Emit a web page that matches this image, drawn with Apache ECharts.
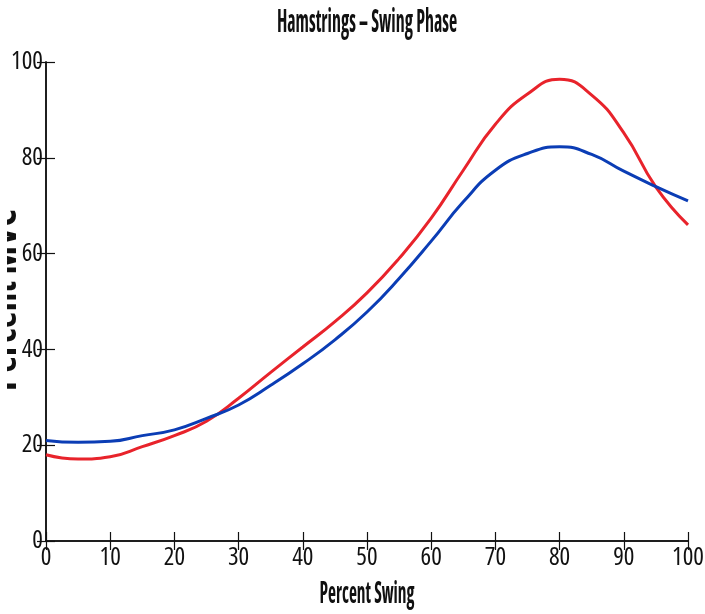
<!DOCTYPE html>
<html>
<head>
<meta charset="utf-8">
<script src="https://cdn.jsdelivr.net/npm/echarts@6/dist/echarts.min.js"></script>
<style>
html,body{margin:0;padding:0;background:#fff;}
#chart{width:705px;height:614px;}
</style>
</head>
<body>
<div id="chart"></div>
<script>
const titleText = 'Hamstrings – Swing Phase';
const xAxisName = 'Percent Swing';
const yAxisName = 'Percent MVC';
const xValues = [0, 5, 10, 15, 20, 25, 30, 35, 40, 45, 50, 55, 60, 65, 70, 75, 80, 85, 90, 95, 100];
const redValues = [18.0, 17.1, 17.6, 19.7, 22.0, 25.0, 29.8, 35.2, 40.5, 45.8, 51.8, 59.0, 67.4, 77.4, 87.0, 93.3, 96.4, 93.1, 85.2, 73.9, 66.0];
const blueValues = [21.0, 20.6, 20.8, 22.0, 23.2, 25.6, 28.4, 32.5, 37.0, 42.0, 47.8, 54.8, 62.6, 70.8, 77.4, 80.9, 82.3, 80.7, 77.2, 74.0, 71.0];
const xTicks = [0, 10, 20, 30, 40, 50, 60, 70, 80, 90, 100];
const yTicks = [0, 20, 40, 60, 80, 100];

const FONT = "'Open Sans', Roboto, sans-serif";
const STRETCH = 'extra-condensed';
const chart = echarts.init(document.getElementById('chart'));

function pairs(vals) { return xValues.map((x, i) => [x, vals[i]]); }

const tickStyle = { show: true, inside: true, length: 9, lineStyle: { color: '#111', width: 1.2 } };
const lineStyleAxis = { show: true, lineStyle: { color: '#111', width: 1.5 } };

chart.setOption({
  animation: false,
  backgroundColor: '#fff',
  grid: { left: 46, right: 17, top: 62, bottom: 73, containLabel: false, outerBoundsMode: 'none' },
  xAxis: [
    {
      type: 'value', min: 0, max: 100, interval: 10, position: 'bottom',
      axisLine: lineStyleAxis, axisTick: tickStyle, splitLine: { show: false },
      axisLabel: { fontFamily: FONT, fontStyle: STRETCH, fontSize: 25, color: '#111', margin: 4,
        formatter: v => (xTicks.indexOf(v) >= 0 ? String(v) : '') }
    },
    {
      type: 'value', min: 0, max: 100, interval: 10, position: 'top',
      axisLine: lineStyleAxis, axisTick: tickStyle, splitLine: { show: false },
      axisLabel: { show: false }
    }
  ],
  yAxis: [
    {
      type: 'value', min: 0, max: 100, interval: 20, position: 'left',
      axisLine: lineStyleAxis, axisTick: tickStyle, splitLine: { show: false },
      axisLabel: { fontFamily: FONT, fontStyle: STRETCH, fontSize: 25, color: '#111', margin: 3,
        formatter: v => (yTicks.indexOf(v) >= 0 ? String(v) : '') }
    },
    {
      type: 'value', min: 0, max: 100, interval: 20, position: 'right',
      axisLine: lineStyleAxis, axisTick: tickStyle, splitLine: { show: false },
      axisLabel: { show: false }
    }
  ],
  graphic: [
    {
      type: 'text', x: 367, y: 7, scaleX: 0.56, z: 10,
      style: {
        text: titleText, fill: '#111',
        font: STRETCH + " bold 32px " + FONT,
        align: 'center', verticalAlign: 'top', textAlign: 'center', textVerticalAlign: 'top'
      }
    },
    {
      type: 'text', x: 367, y: 579, scaleX: 0.56, z: 10,
      style: {
        text: xAxisName, fill: '#111',
        font: STRETCH + " bold 31px " + FONT,
        align: 'center', verticalAlign: 'top', textAlign: 'center', textVerticalAlign: 'top'
      }
    },
    {
      type: 'text', x: 24, y: 300, rotation: Math.PI / 2, z: 10,
      style: {
        text: yAxisName, fill: '#111',
        font: STRETCH + " bold 37px " + FONT,
        align: 'center', verticalAlign: 'bottom',
        textAlign: 'center', textVerticalAlign: 'bottom'
      }
    },
    {
      type: 'rect', z: 11, silent: true,
      shape: { x: 0, y: 150, width: 7, height: 300 },
      style: { fill: '#fff' }
    }
  ],
  series: [
    {
      type: 'line', name: 'Red', data: pairs(redValues), smooth: 0.5, showSymbol: false,
      lineStyle: { color: '#e8232b', width: 3 }, itemStyle: { color: '#e8232b' }, z: 3
    },
    {
      type: 'line', name: 'Blue', data: pairs(blueValues), smooth: 0.5, showSymbol: false,
      lineStyle: { color: '#0b3db5', width: 3 }, itemStyle: { color: '#0b3db5' }, z: 4
    }
  ]
});
</script>
</body>
</html>
